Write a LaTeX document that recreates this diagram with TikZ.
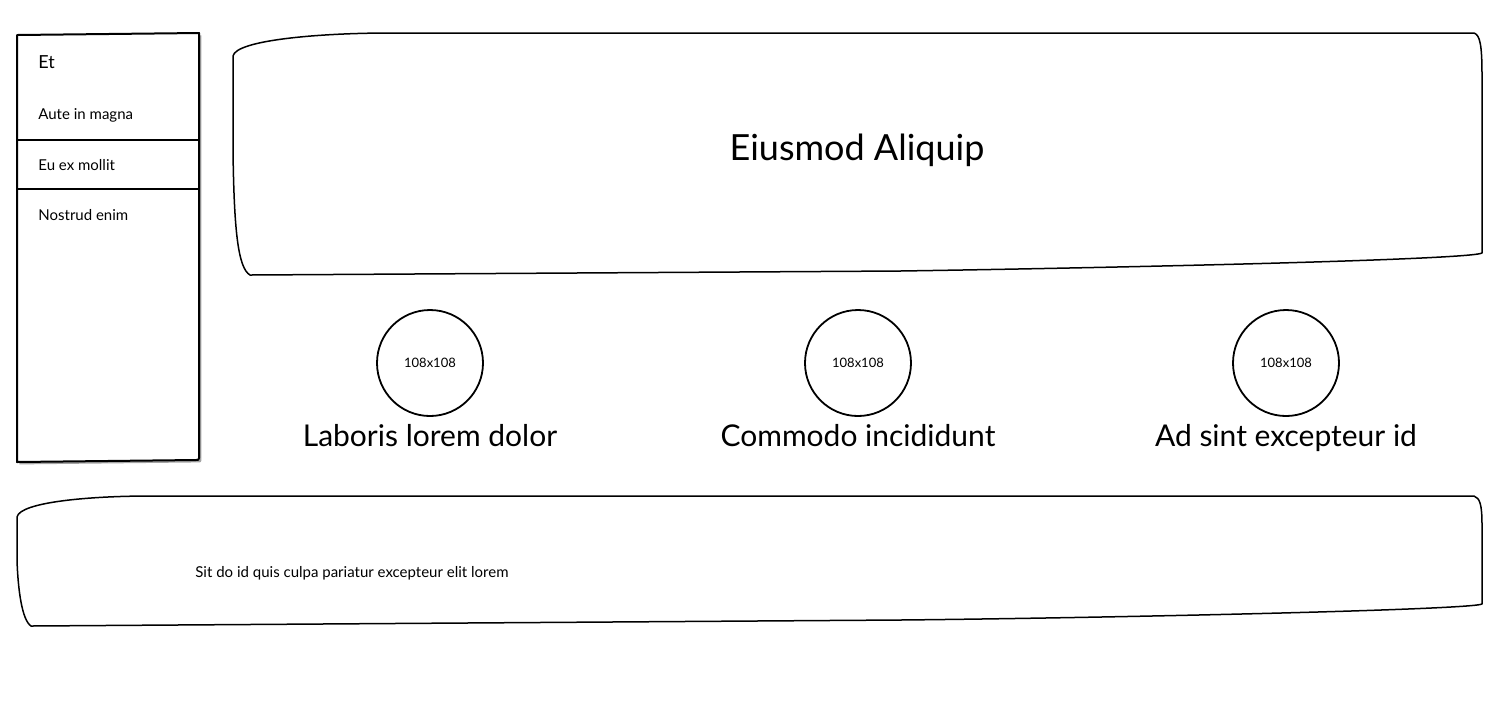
\documentclass[tikz,border=0pt]{standalone}
\usepackage{fontspec}
\setmainfont{Lato}
\usepackage{tikz}
\usetikzlibrary{positioning, shadows}

\begin{document}
\begin{tikzpicture}[x=0.5pt, y=-0.5pt,
  sketch/.style={draw, line width=0.75pt, line join=round},
  menutext/.style={anchor=west, inner sep=0pt, font=\fontsize{7.5}{9}\selectfont},
  picbox/.style={draw, circle, line width=0.9pt, minimum size=53pt, inner sep=0pt, font=\fontsize{6.5}{8}\selectfont},
  caption/.style={font=\fontsize{15}{18}\selectfont}]

\useasboundingbox (0,0) rectangle (1500,720);

%//side menu
\draw[sketch, line width=1pt, fill=white, drop shadow={shadow xshift=1.2pt, shadow yshift=-1.2pt, opacity=0.5, fill=black!70}]
  (17,35) -- (199,33) -- (199,458) .. controls (199,460) and (198,460) .. (196,460) -- (17,462) -- cycle;
\draw[sketch, line width=1pt] (17,140) -- (199,140);
\draw[sketch, line width=1pt] (17,189) -- (199,189);

\node[menutext, font=\fontsize{9}{11}\selectfont] (et) at (38,62) {Et};
\foreach \y/\name/\txt in {115/aute/Aute in magna, 165/eu/Eu ex mollit, 215/nostrud/Nostrud enim}
  \node[menutext] (\name) at (38,\y) {\txt};

%//banner
\draw[sketch] (233,56) .. controls (236,40) and (320,33) .. (390,33) -- (1474,33)
  .. controls (1480,35) and (1482,45) .. (1482,75) -- (1482,253)
  .. controls (1470,260) and (1100,268) .. (900,271) -- (250,275)
  .. controls (238,268) and (234,230) .. (233,150) -- cycle;
\node[font=\fontsize{18}{22}\selectfont] (title) at (857,150) {Eiusmod Aliquip};

%//three pictures
\foreach \x/\name/\txt in {430/laboris/Laboris lorem dolor, 858/commodo/Commodo incididunt, 1286/adsint/Ad sint excepteur id} {
  \node[picbox] (\name) at (\x,363) {108x108};
  \node[caption, below=0pt of \name] (\name-cap) {\txt};
}

%//footer
\draw[sketch] (17,517) .. controls (20,502) and (90,496) .. (150,496) -- (1474,496)
  .. controls (1480,498) and (1482,505) .. (1482,525) -- (1482,604)
  .. controls (1470,610) and (1100,618) .. (900,620) -- (31,626)
  .. controls (22,620) and (18,590) .. (17,560) -- cycle;
\node[menutext] (footnote) at (195,573) {Sit do id quis culpa pariatur excepteur elit lorem};
\end{tikzpicture}
\end{document}
